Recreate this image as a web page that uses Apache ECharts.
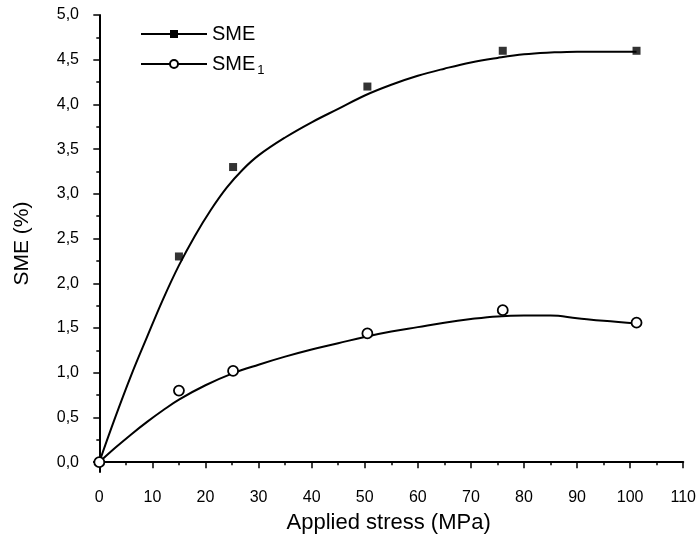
<!DOCTYPE html>
<html lang="en">
<head>
    <meta charset="UTF-8">
    <!-- ECharts -->
    <script type="text/javascript" src="https://cdn.jsdelivr.net/npm/echarts@6/dist/echarts.min.js"></script>
    <style>
        html, body { margin: 0; padding: 0; background: #fff; }
    </style>
</head>
<body>
    <div id="SMEChart" style="width: 699px;height: 545px;"></div>
</body>

<script>
    //测量点 - Applied stress (MPa)
    var stressPts = [0, 15, 25.2, 50.5, 76, 101.2];
    //测量点 - SME
    var smePts = [0, 2.3, 3.3, 4.2, 4.6, 4.6];
    //测量点 - SME1
    var sme1Pts = [0, 0.8, 1.02, 1.44, 1.7, 1.56];

    //拟合曲线 - SME
    var smeFitX = [0, 3, 6, 9, 12, 15, 18, 21, 24, 27, 30, 35, 40, 45, 50, 55, 60, 65, 70, 75, 80, 85, 90, 95, 101.2];
    var smeFitY = [0, 0.5, 0.97, 1.4, 1.82, 2.2, 2.53, 2.82, 3.07, 3.27, 3.43, 3.63, 3.8, 3.95, 4.1, 4.22, 4.32, 4.4, 4.47, 4.52, 4.56, 4.58, 4.59, 4.59, 4.59];
    //拟合曲线 - SME1
    var sme1FitX = [0, 3, 6, 9, 12, 15, 20, 25, 30, 35, 40, 45, 50, 55, 60, 65, 70, 75, 80, 85, 90, 95, 101.2];
    var sme1FitY = [0, 0.16, 0.31, 0.45, 0.58, 0.7, 0.86, 0.99, 1.09, 1.18, 1.26, 1.33, 1.4, 1.46, 1.51, 1.56, 1.6, 1.63, 1.64, 1.64, 1.61, 1.58, 1.55];

    //刻度
    var xMajorTicks = [0, 10, 20, 30, 40, 50, 60, 70, 80, 90, 100, 110];
    var xMinorTicks = [5, 15, 25, 35, 45, 55, 65, 75, 85, 95, 105];
    var yMajorTicks = [0, 0.5, 1, 1.5, 2, 2.5, 3, 3.5, 4, 4.5, 5];
    var yMinorTicks = [0.25, 0.75, 1.25, 1.75, 2.25, 2.75, 3.25, 3.75, 4.25, 4.75];

    var FONT = "'Liberation Sans', Arial, sans-serif";

    function pairs(xs, ys) {
        var out = [];
        for (var i = 0; i < xs.length; i++) {
            out.push([xs[i], ys[i]]);
        }
        return out;
    }

    var SMEChart = echarts.init(document.getElementById("SMEChart"));

    var axisLine = {show: true, lineStyle: {color: '#000', width: 2}};

    var option = {
        animation: false,
        backgroundColor: '#fff',
        textStyle: {fontFamily: FONT, color: '#000'},
        grid: {left: 94, right: 13, top: 15, bottom: 73},
        legend: {
            data: ['SME', 'SME1'],
            orient: 'vertical',
            left: 140,
            top: 24,
            padding: 0,
            itemWidth: 66,
            itemHeight: 10,
            itemGap: 10,
            selectedMode: false,
            textStyle: {
                fontFamily: FONT, fontSize: 20, color: '#000',
                rich: {
                    m: {fontFamily: FONT, fontSize: 20, color: '#000'},
                    s: {fontFamily: FONT, fontSize: 13, color: '#000', padding: [12, 0, 0, 2]}
                }
            },
            formatter: function (name) {
                return name === 'SME1' ? '{m|SME}{s|1}' : '{m|SME}';
            }
        },
        xAxis: [{
            type: 'value',
            min: -1, max: 110,
            name: 'Applied stress (MPa)',
            nameLocation: 'middle',
            nameGap: 40,
            nameTextStyle: {fontFamily: FONT, fontSize: 22, color: '#000'},
            axisLine: axisLine,
            axisTick: {show: true, inside: false, length: 6, customValues: xMajorTicks,
                lineStyle: {color: '#000', width: 1.5}},
            axisLabel: {show: true, margin: 18, fontSize: 16, color: '#000', fontFamily: FONT,
                customValues: xMajorTicks},
            splitLine: {show: false}
        }, {
            type: 'value',
            min: -1, max: 110,
            position: 'bottom',
            axisLine: {show: false},
            axisTick: {show: true, inside: false, length: 3, customValues: xMinorTicks,
                lineStyle: {color: '#000', width: 1.5}},
            axisLabel: {show: false},
            splitLine: {show: false}
        }],
        yAxis: [{
            type: 'value',
            min: -0.11, max: 5,
            name: 'SME (%)',
            nameLocation: 'middle',
            nameGap: 61,
            nameTextStyle: {fontFamily: FONT, fontSize: 21, color: '#000'},
            axisLine: axisLine,
            axisTick: {show: true, inside: false, length: 6, customValues: yMajorTicks,
                lineStyle: {color: '#000', width: 1.5}},
            axisLabel: {show: true, margin: 15, fontSize: 16, color: '#000', fontFamily: FONT,
                customValues: yMajorTicks,
                formatter: function (v) { return v.toFixed(1).replace('.', ','); }},
            splitLine: {show: false}
        }, {
            type: 'value',
            min: -0.11, max: 5,
            position: 'left',
            axisLine: {show: false},
            axisTick: {show: true, inside: false, length: 3, customValues: yMinorTicks,
                lineStyle: {color: '#000', width: 1.5}},
            axisLabel: {show: false},
            splitLine: {show: false}
        }],
        series: [{
            name: 'SME',
            type: 'line',
            data: pairs(smeFitX, smeFitY),
            smooth: 0.4,
            symbol: 'rect',
            symbolSize: 7,
            showSymbol: false,
            lineStyle: {color: '#000', width: 2},
            itemStyle: {color: '#000'},
            z: 2
        }, {
            name: 'SME1',
            type: 'line',
            data: pairs(sme1FitX, sme1FitY),
            smooth: 0.4,
            symbol: 'circle',
            symbolSize: 8,
            showSymbol: false,
            lineStyle: {color: '#000', width: 2},
            itemStyle: {color: '#fff', borderColor: '#000', borderWidth: 1.5},
            z: 2
        }, {
            name: 'SME pts',
            type: 'scatter',
            data: pairs(stressPts, smePts),
            symbol: 'rect',
            symbolSize: 8,
            itemStyle: {color: '#000'},
            z: 3
        }, {
            name: 'SME1 pts',
            type: 'scatter',
            data: pairs(stressPts, sme1Pts),
            symbol: 'circle',
            symbolSize: 10,
            itemStyle: {color: '#fff', borderColor: '#000', borderWidth: 1.8, opacity: 1},
            z: 3
        }]
    };

    SMEChart.setOption(option);
</script>
</html>
